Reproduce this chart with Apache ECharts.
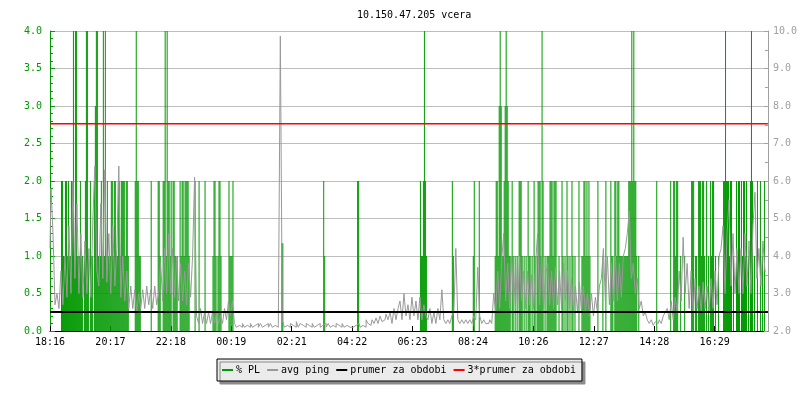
<!DOCTYPE html>
<html>
<head>
<meta charset="utf-8">
<title>10.150.47.205 vcera</title>
<script src="https://cdn.jsdelivr.net/npm/echarts@6/dist/echarts.min.js"></script>
<style>
  html, body { margin: 0; padding: 0; background: #fff; }
  #chart { width: 800px; height: 400px; }
</style>
</head>
<body>
<div id="chart"></div>
<script>
// osa x: kroky po 2 minutach od 18:16
var tickLabels = ['18:16', '20:17', '22:18', '00:19', '02:21', '04:22', '06:23', '08:24', '10:26', '12:27', '14:28', '16:29'];
var tickStep = 60.6;
var totalSteps = 720;

// % PL - jen nenulove kroky
var plSteps = [
  11, 12, 13, 14, 15, 16, 17, 18, 19, 20, 21, 22, 23, 24, 25, 26, 27, 28, 29, 30,
  31, 32, 34, 35, 36, 37, 38, 40, 41, 42, 44, 45, 46, 47, 48, 49, 50, 51, 52, 53,
  54, 55, 56, 57, 58, 59, 60, 61, 62, 63, 64, 65, 66, 67, 68, 69, 70, 71, 72, 73,
  74, 75, 76, 77, 78, 85, 86, 87, 88, 89, 90, 101, 108, 109, 110, 113, 114, 115, 116, 117,
  118, 119, 120, 121, 123, 124, 125, 126, 127, 130, 131, 132, 133, 134, 135, 136, 137, 138, 139, 145,
  149, 155, 163, 164, 165, 166, 168, 169, 170, 171, 179, 180, 181, 182, 183, 232, 233, 274, 275, 308,
  309, 371, 372, 373, 374, 375, 376, 377, 403, 404, 424, 425, 430, 446, 447, 448, 449, 450, 451, 452,
  453, 454, 455, 456, 457, 458, 459, 460, 461, 463, 464, 466, 468, 470, 471, 472, 473, 475, 477, 479,
  480, 481, 483, 485, 486, 488, 489, 490, 491, 492, 493, 494, 496, 498, 499, 500, 501, 502, 503, 504,
  505, 506, 507, 510, 513, 514, 516, 518, 519, 521, 523, 524, 526, 530, 533, 534, 535, 536, 537, 538,
  539, 540, 541, 549, 554, 557, 562, 563, 564, 566, 567, 568, 569, 570, 571, 572, 573, 574, 575, 576,
  577, 578, 579, 580, 581, 582, 583, 584, 585, 586, 587, 588, 590, 608, 622, 625, 626, 627, 628, 629,
  632, 636, 643, 644, 645, 647, 648, 650, 651, 652, 653, 654, 655, 656, 658, 660, 662, 663, 664, 665,
  667, 670, 675, 676, 677, 678, 679, 680, 681, 682, 683, 685, 688, 689, 690, 691, 693, 694, 695, 696,
  697, 698, 700, 702, 703, 704, 706, 709, 712, 714, 716
];
var plValues = [
  2, 2, 1, 1, 2, 2, 1, 2, 1, 1, 2, 2, 4, 1, 4, 4, 1, 1, 1, 2,
  1, 1, 1, 2, 4, 4, 1, 2, 1, 1, 2, 3, 4, 4, 1, 1, 1, 2, 1, 4,
  1, 4, 1, 2, 1, 1, 1, 2, 2, 1, 2, 2, 1, 1, 2, 2, 1, 2, 2, 2,
  2, 1, 2, 2, 1, 2, 4, 2, 2, 1, 1, 2, 2, 2, 1, 2, 2, 4, 1, 4,
  2, 2, 1, 2, 2, 2, 1, 1, 1, 2, 1, 2, 2, 1, 2, 2, 2, 2, 1, 2,
  2, 2, 1, 2, 2, 1, 1, 2, 2, 1, 2, 1, 1, 1, 2, 1.17, 1.17, 2, 1, 2,
  2, 2, 1, 1, 2, 4, 2, 1, 2, 1, 1, 2, 2, 1, 2, 2, 1, 3, 4, 3,
  1, 1, 2, 3, 4, 3, 2, 1, 1, 2, 1, 1, 1, 2, 2, 2, 1, 1, 1, 2,
  1, 1, 1, 2, 1, 1, 2, 2, 2, 1, 4, 2, 1, 1, 1, 1, 2, 2, 2, 1,
  2, 2, 2, 1, 2, 1, 1, 2, 1, 1, 2, 1, 1, 2, 1, 1, 2, 2, 1, 2,
  1, 2, 1, 2, 1, 2, 2, 1, 1, 2, 2, 1, 2, 2, 1, 1, 1, 1, 1, 1,
  1, 1, 1, 2, 2, 2, 4, 2, 4, 2, 2, 1, 1, 2, 2, 2, 2, 1, 2, 2,
  1, 1, 2, 2, 2, 1, 1, 2, 2, 2, 1, 2, 2, 1, 2, 1, 2, 1, 2, 2,
  1, 1, 2, 2, 4, 2, 2, 2, 1, 2, 2, 1, 2, 1, 2, 2, 2, 1, 2, 2,
  1, 2, 1, 2, 4, 2, 1, 2, 2, 1, 2
];

// avg ping [ms], jeden bod na 2 kroky
var pingValues = [
  4.2, 5.8, 4.6, 2.7, 3.0, 2.6, 3.6, 2.7, 4.0, 2.9,
  4.8, 3.0, 6.0, 3.4, 5.4, 3.0, 4.6, 2.9, 4.4, 3.0,
  4.2, 2.9, 5.0, 6.4, 3.6, 3.2, 5.4, 3.4, 6.3, 3.3,
  4.6, 3.0, 4.8, 3.2, 4.2, 6.4, 2.9, 4.0, 2.8, 3.6,
  2.6, 3.2, 2.6, 3.1, 2.5, 3.0, 2.6, 3.1, 2.6, 3.2,
  2.7, 3.1, 2.6, 3.2, 2.7, 3.0, 3.8, 2.8, 4.2, 3.0,
  4.6, 3.0, 4.2, 2.9, 4.0, 2.8, 3.8, 2.8, 3.6, 2.7,
  3.8, 2.9, 4.0, 6.1, 2.4, 2.2, 2.6, 2.2, 2.5, 2.2,
  2.5, 2.2, 2.5, 2.2, 2.5, 2.2, 2.4, 2.2, 2.6, 2.3,
  2.8, 2.4, 2.8, 2.2, 2.1, 2.15, 2.1, 2.2, 2.1, 2.15,
  2.1, 2.2, 2.1, 2.15, 2.2, 2.1, 2.2, 2.1, 2.15, 2.2,
  2.1, 2.2, 2.1, 2.15, 2.1, 2.2, 9.86, 2.3, 2.1, 2.15,
  2.1, 2.2, 2.15, 2.1, 2.25, 2.1, 2.2, 2.15, 2.1, 2.2,
  2.15, 2.1, 2.2, 2.1, 2.15, 2.2, 2.1, 2.15, 2.2, 2.1,
  2.2, 2.1, 2.15, 2.1, 2.2, 2.15, 2.1, 2.2, 2.1, 2.15,
  2.1, 2.05, 2.1, 2.15, 2.1, 2.2, 2.1, 2.15, 2.1, 2.3,
  2.2, 2.15, 2.3, 2.2, 2.35, 2.2, 2.4, 2.25, 2.3, 2.45,
  2.3, 2.5, 2.2, 2.6, 2.3, 2.6, 2.8, 2.3, 3.0, 2.4,
  2.7, 2.3, 2.9, 2.4, 2.8, 2.3, 2.9, 2.3, 2.7, 2.4,
  2.3, 2.6, 2.2, 2.5, 2.2, 2.6, 2.3, 3.1, 2.3, 2.2,
  2.3, 2.2, 2.4, 2.5, 4.2, 2.3, 2.2, 2.3, 2.2, 2.3,
  2.2, 2.3, 2.2, 2.4, 2.3, 3.7, 2.4, 2.2, 2.3, 2.2,
  2.2, 2.3, 2.2, 3.0, 2.5, 3.6, 2.6, 3.9, 4.6, 2.8,
  3.8, 2.6, 4.0, 2.7, 3.7, 2.6, 4.0, 2.8, 3.6, 2.6,
  3.6, 2.7, 3.5, 2.6, 3.8, 4.6, 2.7, 4.0, 2.6, 3.5,
  3.8, 2.7, 3.6, 2.6, 3.7, 2.7, 3.6, 2.6, 3.8, 2.8,
  3.6, 2.6, 3.4, 2.5, 3.2, 2.5, 3.3, 2.5, 3.2, 2.5,
  3.0, 2.4, 3.0, 2.4, 2.9, 2.5, 3.2, 3.4, 4.2, 2.8,
  4.0, 2.7, 3.8, 2.8, 4.0, 2.8, 3.8, 2.9, 4.0, 4.2,
  4.6, 5.2, 3.4, 3.8, 3.0, 3.4, 2.6, 2.8, 2.4, 2.5,
  2.3, 2.2, 2.3, 2.15, 2.25, 2.2, 2.3, 2.2, 2.4, 2.5,
  2.6, 2.3, 2.8, 2.3, 2.9, 2.5, 3.6, 2.8, 4.5, 3.0,
  3.8, 2.6, 3.6, 2.5, 3.4, 2.6, 3.2, 2.5, 3.3, 2.6,
  3.2, 2.5, 3.4, 2.6, 3.6, 2.7, 4.0, 4.2, 4.8, 3.0,
  4.6, 5.5, 3.2, 4.6, 3.0, 4.2, 3.0, 4.2, 3.0, 4.6,
  3.2, 4.4, 3.0, 4.8, 5.7, 3.4, 4.2, 3.2, 4.4, 3.6
];

// prumer za obdobi a 3*prumer [ms]
var periodAvg = 2.51;
var periodAvg3 = 7.53;

var mono = 'DejaVu Sans Mono';

// kategorie pro sloupce % PL (jeden krok = jeden sloupec)
var stepCats = [];
var plData = [];
for (var s = 0; s < totalSteps; s++) {
    stepCats.push(s);
    plData.push(0);
}
plSteps.forEach(function (st, i) { plData[st] = plValues[i]; });

var pingData = pingValues.map(function (v, i) { return [i * 2, v]; });

var myChart = echarts.init(document.getElementById('chart'));
myChart.setOption({
    animation: false,
    backgroundColor: '#ffffff',
    textStyle: { fontFamily: mono },
    title: {
        text: '10.150.47.205 vcera',
        left: 352,
        top: 5,
        textStyle: { fontFamily: mono, fontSize: 10, fontWeight: 'normal', color: '#000' }
    },
    grid: {
        left: 50,
        width: 720,
        top: 31,
        bottom: 69
    },
    legend: {
        left: 217,
        top: 359,
        padding: [6, 6, 6, 5],
        icon: 'rect',
        itemWidth: 11,
        itemHeight: 2,
        itemGap: 7,
        backgroundColor: '#ebebeb',
        borderColor: '#000',
        borderWidth: 1,
        shadowColor: '#8a8a8a',
        shadowOffsetX: 3,
        shadowOffsetY: 3,
        shadowBlur: 0,
        textStyle: { fontFamily: mono, fontSize: 10, color: '#000', padding: [0, 0, 0, -2] },
        data: ['% PL', 'avg ping', 'prumer za obdobi', '3*prumer za obdobi']
    },
    xAxis: [{
        type: 'value',
        min: 0,
        max: totalSteps,
        interval: tickStep,
        axisLine: { lineStyle: { color: '#000', width: 1 } },
        axisTick: { inside: true, length: 5, lineStyle: { color: '#000' } },
        splitLine: { show: false },
        axisLabel: {
            color: '#000',
            fontFamily: mono,
            fontSize: 10,
            margin: 6,
            showMaxLabel: false,
            formatter: function (v) {
                var i = Math.round(v / tickStep);
                return (i < tickLabels.length && Math.abs(v - i * tickStep) < 1) ? tickLabels[i] : '';
            }
        }
    }, {
        type: 'category',
        data: stepCats,
        show: false,
        boundaryGap: true
    }],
    yAxis: [{
        type: 'value',
        min: 0,
        max: 4,
        interval: 0.5,
        axisLine: { show: true, lineStyle: { color: '#009900' } },
        axisTick: { show: true, inside: true, length: 5, lineStyle: { color: '#009900' } },
        minorTick: { show: true, splitNumber: 5, length: 3, lineStyle: { color: '#009900' } },
        splitLine: { show: true, lineStyle: { color: '#bdbdbd', width: 1 } },
        axisLabel: {
            color: '#009900',
            fontFamily: mono,
            fontSize: 10,
            margin: 8,
            formatter: function (v) { return v.toFixed(1); }
        }
    }, {
        type: 'value',
        min: 2,
        max: 10,
        interval: 1,
        position: 'right',
        axisLine: { show: true, lineStyle: { color: '#a0a0a0' } },
        axisTick: { show: true, inside: true, length: 4, lineStyle: { color: '#a0a0a0' } },
        minorTick: { show: true, splitNumber: 2, length: 3, lineStyle: { color: '#a0a0a0' } },
        splitLine: { show: false },
        axisLabel: {
            color: '#a0a0a0',
            fontFamily: mono,
            fontSize: 10,
            margin: 5,
            formatter: function (v) { return v.toFixed(1); }
        }
    }],
    series: [{
        name: '% PL',
        type: 'bar',
        xAxisIndex: 1,
        barWidth: 1,
        itemStyle: { color: '#009900' },
        data: plData
    }, {
        name: 'avg ping',
        type: 'line',
        yAxisIndex: 1,
        step: 'middle',
        symbol: 'none',
        lineStyle: { color: '#999999', width: 1 },
        itemStyle: { color: '#999999' },
        data: pingData
    }, {
        name: 'prumer za obdobi',
        type: 'line',
        yAxisIndex: 1,
        symbol: 'none',
        lineStyle: { color: '#000000', width: 2 },
        itemStyle: { color: '#000000' },
        data: [[0, periodAvg], [totalSteps, periodAvg]]
    }, {
        name: '3*prumer za obdobi',
        type: 'line',
        yAxisIndex: 1,
        symbol: 'none',
        lineStyle: { color: '#ff0000', width: 1.5 },
        itemStyle: { color: '#ff0000' },
        data: [[0, periodAvg3], [totalSteps, periodAvg3]]
    }]
});
</script>
</body>
</html>
